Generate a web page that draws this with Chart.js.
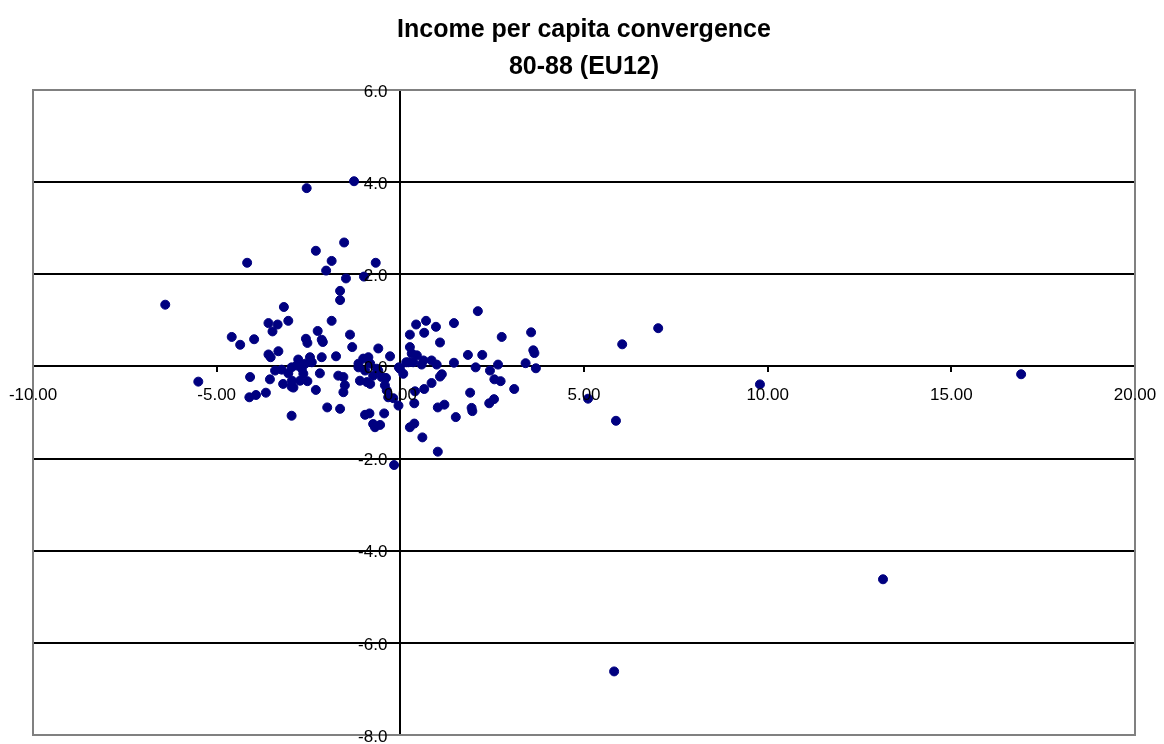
<!DOCTYPE html>
<html>
<head>
<meta charset="utf-8">
<title>Income per capita convergence</title>
<script src="https://cdn.jsdelivr.net/npm/chart.js@4.4.1/dist/chart.umd.min.js"></script>
<style>
  html, body { margin: 0; padding: 0; background: #fff; }
  #wrap { width: 1164px; height: 744px; }
</style>
</head>
<body>
<div id="wrap"><canvas id="scatterChart"></canvas></div>
<script>
// regions: x and y
const xValues = [
  -6.40, -4.17, -2.55, -1.26, -2.30, -1.87, -2.02, -1.53, -0.67, -1.48,
  -0.99, -1.64, -1.64, -3.17, -3.59, -3.34, -3.48, -3.05, -1.87, -4.59,
  -4.36, -3.98, -3.59, -3.53, -3.32, -4.09, -3.55, -3.41, -3.23, -3.05,
  -3.19, -2.96, -2.95, -2.73, -2.53, -2.96, -2.78, -2.59, -2.46, -2.41,
  -2.68, -2.82, -2.96, -4.11, -3.93, -3.66, -5.50, -2.57, -2.53, -2.25,
  -2.14, -2.11, -2.19, -2.30, -1.99, -2.14, -1.37, -1.31, -1.75, -0.60,
  -0.28, -1.14, -1.01, -0.87, -0.82, -0.96, -1.10, -0.91, -0.82, -0.74,
  -0.60, -0.51, -1.69, -1.55, -1.51, -1.55, -1.64, -0.96, -0.84, -0.74,
  -0.69, -0.55, -0.44, -0.42, -0.37, -0.33, -0.05, -0.17, -0.01, 0.08,
  0.22, 0.35, 0.26, 0.31, 0.26, 0.43, 0.70, 0.65, 0.97, 1.08,
  1.46, 2.11, 0.63, 0.58, 0.85, 0.99, 1.13, 1.08, 0.85, 0.65,
  0.40, 0.38, 1.02, 1.20, 0.26, 0.38, 0.60, 1.02, 1.46, 1.51,
  1.84, 1.90, 1.94, 1.96, 2.05, 2.23, 2.44, 2.56, 2.73, 2.42,
  2.55, 2.66, 2.76, 3.10, 3.41, 3.56, 3.62, 3.65, 3.69, 5.11,
  5.87, 6.04, 7.02, 9.79, 16.90, 13.14, 5.82, 0.16, -0.04, 0.45,
  -1.14, -2.91, -2.64, -0.39, -0.64, -0.19
];
const yValues = [
  1.34, 2.25, 3.87, 4.02, 2.51, 2.29, 2.08, 2.69, 2.25, 1.91,
  1.95, 1.64, 1.44, 1.29, 0.94, 0.91, 0.76, 0.99, 0.99, 0.64,
  0.47, 0.59, 0.26, 0.20, 0.33, -0.23, -0.28, -0.09, -0.07, -0.15,
  -0.38, -0.44, -0.31, -0.31, -0.32, -0.02, 0.15, 0.06, 0.20, 0.09,
  -0.05, 0.02, -1.07, -0.67, -0.62, -0.57, -0.33, 0.60, 0.51, 0.77,
  0.58, 0.53, -0.15, -0.51, -0.89, 0.20, 0.69, 0.42, 0.22, 0.39,
  0.22, 0.06, 0.17, 0.20, 0.06, -0.09, -0.31, -0.34, -0.38, -0.20,
  -0.09, -0.23, -0.20, -0.23, -0.41, -0.56, -0.92, -1.05, -1.02, -1.25,
  -1.32, -1.27, -1.02, -0.41, -0.52, -0.67, -0.85, -2.14, -0.05, -0.16,
  0.09, 0.09, 0.42, 0.28, 0.69, 0.91, 0.99, 0.73, 0.86, 0.52,
  0.94, 1.20, 0.13, 0.04, 0.13, 0.04, -0.17, -0.22, -0.36, -0.49,
  -0.54, -0.80, -0.89, -0.83, -1.32, -1.24, -1.54, -1.85, 0.08, -1.10,
  0.25, -0.57, -0.90, -0.97, -0.02, 0.25, -0.09, -0.28, -0.32, -0.80,
  -0.71, 0.04, 0.64, -0.49, 0.07, 0.74, 0.35, 0.29, -0.04, -0.70,
  -1.18, 0.48, 0.83, -0.39, -0.17, -4.62, -6.62, 0.09, -0.02, 0.24,
  -0.02, -0.46, -0.16, -0.25, -0.05, -0.69
];
const xTickStep = 5;
const yTickStep = 2;
const titleLines = ['Income per capita convergence', '80-88 (EU12)'];

const points = xValues.map((x, i) => ({ x: x, y: yValues[i] }));
const tickFont = '17px "Liberation Sans", Arial, sans-serif';

// grey frame round the plot area; tick labels placed next to the crossing axes
const plotFrame = {
  id: 'plotFrame',
  afterDraw(chart) {
    const a = chart.chartArea;
    const c = chart.ctx;
    c.save();
    c.strokeStyle = '#808080';
    c.lineWidth = 2;
    c.strokeRect(a.left, a.top, a.right - a.left, a.bottom - a.top);

    const xs = chart.scales.x;
    const ys = chart.scales.y;
    const axisX = xs.getPixelForValue(0);
    const axisY = ys.getPixelForValue(0);
    c.font = tickFont;
    c.fillStyle = '#000';
    c.textBaseline = 'middle';
    c.textAlign = 'right';
    ys.ticks.forEach(t => {
      c.fillText(t.value.toFixed(1), axisX - 13, ys.getPixelForValue(t.value) + 2);
    });
    c.textAlign = 'center';
    xs.ticks.forEach(t => {
      c.fillText(t.value.toFixed(2), xs.getPixelForValue(t.value), axisY + 29);
    });
    c.restore();
  }
};

Chart.defaults.font.family = '"Liberation Sans", Arial, sans-serif';
Chart.defaults.color = '#000';

const ctx = document.getElementById('scatterChart').getContext('2d');
const chart = new Chart(ctx, {
  type: 'scatter',
  data: {
    datasets: [{
      label: 'regions',
      data: points,
      backgroundColor: '#000080',
      borderColor: '#000080',
      pointRadius: 4.5,
      pointHoverRadius: 4.5
    }]
  },
  options: {
    responsive: true,
    maintainAspectRatio: false,
    animation: false,
    layout: { padding: { left: 33, right: 29, top: 11.5, bottom: 9 } },
    plugins: {
      legend: { display: false },
      tooltip: { enabled: false },
      title: {
        display: true,
        text: titleLines,
        font: { size: 25, weight: 'bold', lineHeight: 1.48 },
        padding: { top: 0, bottom: 4.5 },
        color: '#000'
      }
    },
    scales: {
      x: {
        type: 'linear',
        position: { y: 0 },
        min: -10,
        max: 20,
        ticks: {
          stepSize: xTickStep,
          display: false
        },
        grid: { drawOnChartArea: false, drawTicks: true, tickLength: 5, color: '#000', lineWidth: 2 },
        border: { display: true, color: '#000', width: 2 }
      },
      y: {
        type: 'linear',
        position: { x: 0 },
        min: -8,
        max: 6,
        ticks: {
          stepSize: yTickStep,
          display: false
        },
        grid: {
          drawOnChartArea: true,
          drawTicks: true,
          tickLength: 6,
          lineWidth: 2,
          color: c => (c.tick && (c.tick.value === 6 || c.tick.value === -8)) ? 'rgba(0,0,0,0)' : '#000'
        },
        border: { display: true, color: '#000', width: 2 }
      }
    }
  },
  plugins: [plotFrame]
});
</script>
</body>
</html>
